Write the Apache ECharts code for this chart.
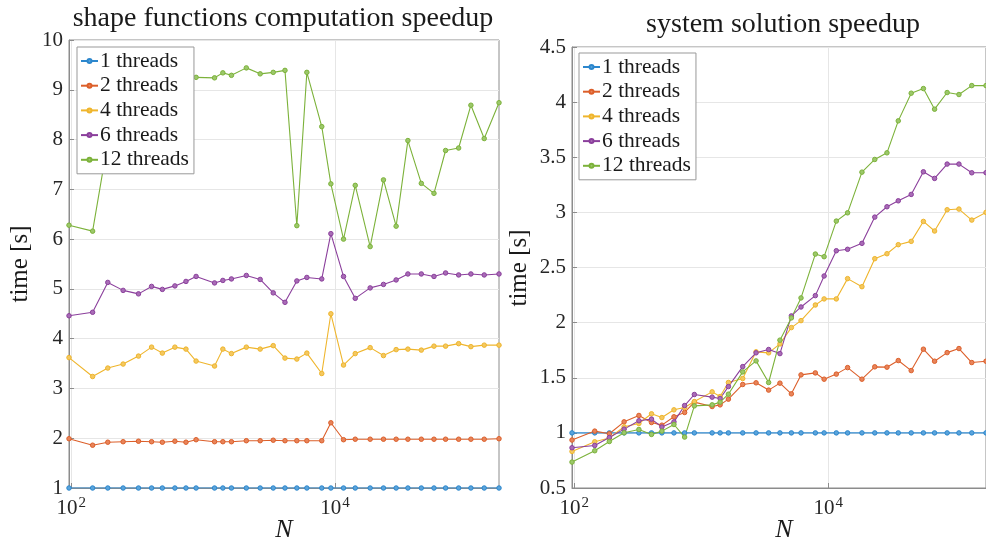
<!DOCTYPE html>
<html>
<head>
<meta charset="utf-8">
<script src="https://cdn.jsdelivr.net/npm/echarts@6/dist/echarts.min.js"></script>
<style>
  html, body { margin: 0; padding: 0; background: #fff; }
  #main { width: 986px; height: 549px; }
</style>
</head>
<body>
<div id="main"></div>
<script>
// problem sizes (same for both panels)
var N = [96, 145, 189, 247, 323, 406, 490, 610, 740, 883, 1219, 1409, 1637, 2123, 2704, 3396, 4169, 5129, 6109, 7925,
         9290, 11590, 14220, 18450, 23280, 29040, 35650, 45080, 56230, 68870, 86500, 107150, 135200, 175000];
var names = ['1 threads', '2 threads', '4 threads', '6 threads', '12 threads'];
var colors = ['#2c87cd', '#dc5f2a', '#efb52c', '#8b3f9c', '#7cb23a'];
var fills = ['#5aa4dc', '#e8845a', '#f4c860', '#a86cb6', '#9cc86a'];
var xTickExp = [2, 4];

// shape functions computation speedup
var shape1 = [1, 1, 1, 1, 1, 1, 1, 1, 1, 1, 1, 1, 1, 1, 1, 1, 1, 1, 1, 1, 1, 1, 1, 1, 1, 1, 1, 1, 1, 1, 1, 1, 1, 1];
var shape2 = [1.99, 1.86, 1.92, 1.93, 1.94, 1.93, 1.92, 1.94, 1.92, 1.97, 1.93, 1.93, 1.93, 1.95, 1.95, 1.96, 1.95, 1.95, 1.95, 1.95,
              2.31, 1.97, 1.98, 1.98, 1.98, 1.98, 1.98, 1.98, 1.98, 1.98, 1.98, 1.98, 1.98, 1.99];
var shape4 = [3.62, 3.24, 3.41, 3.49, 3.65, 3.83, 3.71, 3.83, 3.79, 3.55, 3.45, 3.79, 3.70, 3.83, 3.79, 3.86, 3.61, 3.59, 3.71, 3.30,
              4.50, 3.47, 3.70, 3.82, 3.66, 3.78, 3.79, 3.77, 3.85, 3.85, 3.90, 3.84, 3.87, 3.87];
var shape6 = [4.46, 4.53, 5.13, 4.97, 4.90, 5.05, 4.99, 5.06, 5.15, 5.25, 5.12, 5.17, 5.20, 5.27, 5.19, 4.92, 4.73, 5.16, 5.23, 5.20,
              6.11, 5.25, 4.81, 5.02, 5.09, 5.18, 5.30, 5.30, 5.25, 5.32, 5.28, 5.30, 5.28, 5.30];
var shape12 = [6.28, 6.16, 7.95, 8.7, 9.0, 9.1, 9.2, 9.15, 9.25, 9.25, 9.24, 9.34, 9.29, 9.44, 9.32, 9.35, 9.39, 6.27, 9.35, 8.26,
               7.11, 6.0, 7.08, 5.85, 7.19, 6.26, 7.98, 7.12, 6.92, 7.78, 7.83, 8.69, 8.02, 8.74];

// system solution speedup
var sys1 = [1, 1, 1, 1, 1, 1, 1, 1, 1, 1, 1, 1, 1, 1, 1, 1, 1, 1, 1, 1, 1, 1, 1, 1, 1, 1, 1, 1, 1, 1, 1, 1, 1, 1];
var sys2 = [0.935, 1.016, 0.992, 1.10, 1.158, 1.094, 1.07, 1.146, 1.185, 1.279, 1.239, 1.254, 1.306, 1.439, 1.454, 1.388, 1.451, 1.354, 1.526, 1.544,
            1.487, 1.533, 1.592, 1.487, 1.599, 1.596, 1.656, 1.565, 1.759, 1.650, 1.728, 1.765, 1.638, 1.65];
var sys4 = [0.832, 0.919, 0.953, 1.055, 1.085, 1.173, 1.139, 1.209, 1.230, 1.284, 1.372, 1.330, 1.457, 1.493, 1.735, 1.726, 1.807, 1.955, 2.018, 2.160,
            2.215, 2.215, 2.399, 2.326, 2.580, 2.625, 2.707, 2.737, 2.918, 2.831, 3.024, 3.030, 2.930, 3.0];
var sys6 = [0.865, 0.886, 0.958, 1.034, 1.110, 1.125, 1.053, 1.100, 1.248, 1.348, 1.324, 1.312, 1.420, 1.601, 1.726, 1.756, 1.719, 2.061, 2.142, 2.245,
            2.423, 2.652, 2.665, 2.719, 2.957, 3.051, 3.105, 3.163, 3.368, 3.308, 3.438, 3.438, 3.359, 3.36];
var sys12 = [0.735, 0.838, 0.922, 1.001, 1.031, 0.986, 1.016, 1.076, 0.962, 1.245, 1.254, 1.279, 1.351, 1.553, 1.653, 1.457, 1.841, 2.043, 2.224, 2.622,
             2.598, 2.921, 2.996, 3.365, 3.480, 3.540, 3.830, 4.081, 4.123, 3.936, 4.087, 4.069, 4.150, 4.15];

var FONT = 'Liberation Serif';
var TXT = '#262626';
var BOX = '#8c8c8c';

function pairs(ys) {
    return N.map(function (n, i) { return [Math.log10(n), ys[i]]; });
}

function makeSeries(list, axisIdx) {
    return list.map(function (ys, k) {
        return {
            name: names[k],
            type: 'line',
            xAxisIndex: axisIdx,
            yAxisIndex: axisIdx,
            data: pairs(ys),
            symbol: 'circle',
            symbolSize: 4.5,
            showSymbol: true,
            animation: false,
            lineStyle: { width: 1.1, color: colors[k] },
            itemStyle: { color: fills[k], borderColor: colors[k], borderWidth: 1 }
        };
    });
}

function xAxisOpt(gi) {
    return {
        type: 'value',
        gridIndex: gi,
        min: Math.log10(N[0]),
        max: Math.log10(N[N.length - 1]),
        axisLine: { lineStyle: { color: BOX } },
        axisTick: { inside: true, length: 5, customValues: xTickExp, lineStyle: { color: BOX } },
        axisLabel: {
            customValues: xTickExp,
            margin: 8,
            formatter: function (v) { return '{a|10}{b|' + Math.round(v) + '}'; },
            rich: {
                a: { fontFamily: FONT, fontSize: 21, color: TXT, verticalAlign: 'bottom' },
                b: { fontFamily: FONT, fontSize: 15, color: TXT, verticalAlign: 'bottom', padding: [0, 0, 8, 1] }
            }
        },
        splitLine: { show: true, lineStyle: { color: '#e6e6e6' } }
    };
}

function yAxisOpt(gi, min, max, step) {
    return {
        type: 'value',
        gridIndex: gi,
        min: min,
        max: max,
        interval: step,
        axisLine: { show: true, lineStyle: { color: BOX } },
        axisTick: { show: true, inside: true, length: 5, lineStyle: { color: BOX } },
        axisLabel: { fontFamily: FONT, fontSize: 21, color: TXT, margin: 6 },
        splitLine: { show: true, lineStyle: { color: '#e6e6e6' } }
    };
}

function legendOpt(left, top) {
    return {
        data: names,
        left: left,
        top: top,
        orient: 'vertical',
        backgroundColor: '#fff',
        borderColor: '#999',
        borderWidth: 1,
        borderRadius: 0,
        padding: [3, 5, 3, 3],
        itemGap: 2.7,
        itemWidth: 17,
        itemHeight: 5,
        textStyle: { fontFamily: FONT, fontSize: 21.5, lineHeight: 22, color: '#1a1a1a', padding: [0, 0, 0, -3] }
    };
}

function label(text, x, y, size, extra) {
    var el = {
        type: 'text',
        x: x,
        y: y,
        style: { text: text, fontFamily: FONT, fontSize: size, fill: '#1a1a1a', textAlign: 'center', textVerticalAlign: 'middle' }
    };
    if (extra) {
        for (var k in extra) el[k] = extra[k];
    }
    return el;
}

function italic(text, x, y, size) {
    return {
        type: 'text',
        x: x,
        y: y,
        style: { text: text, fontFamily: FONT, fontSize: size, fontStyle: 'italic', fill: '#1a1a1a', textAlign: 'center', textVerticalAlign: 'middle' }
    };
}

var chart = echarts.init(document.getElementById('main'), null, { renderer: 'canvas' });
var option = {
    backgroundColor: '#fff',
    animation: false,
    grid: [
        { left: 69, top: 40, width: 430, height: 448, show: true, borderColor: BOX, borderWidth: 1, backgroundColor: '#fff' },
        { left: 572, top: 47, width: 425, height: 441, show: true, borderColor: BOX, borderWidth: 1, backgroundColor: '#fff' }
    ],
    xAxis: [xAxisOpt(0), xAxisOpt(1)],
    yAxis: [yAxisOpt(0, 1, 10, 1), yAxisOpt(1, 0.5, 4.5, 0.5)],
    legend: [legendOpt(77, 47), legendOpt(579, 53)],
    graphic: [
        label('shape functions computation speedup', 283, 19, 28),
        label('system solution speedup', 783, 25, 28),
        label('time [s]', 20, 264, 25, { rotation: Math.PI / 2 }),
        label('time [s]', 519, 268, 25, { rotation: Math.PI / 2 }),
        italic('N', 284, 530, 26),
        italic('N', 784, 530, 26)
    ],
    series: makeSeries([shape1, shape2, shape4, shape6, shape12], 0)
        .concat(makeSeries([sys1, sys2, sys4, sys6, sys12], 1))
};
chart.setOption(option);
</script>
</body>
</html>
